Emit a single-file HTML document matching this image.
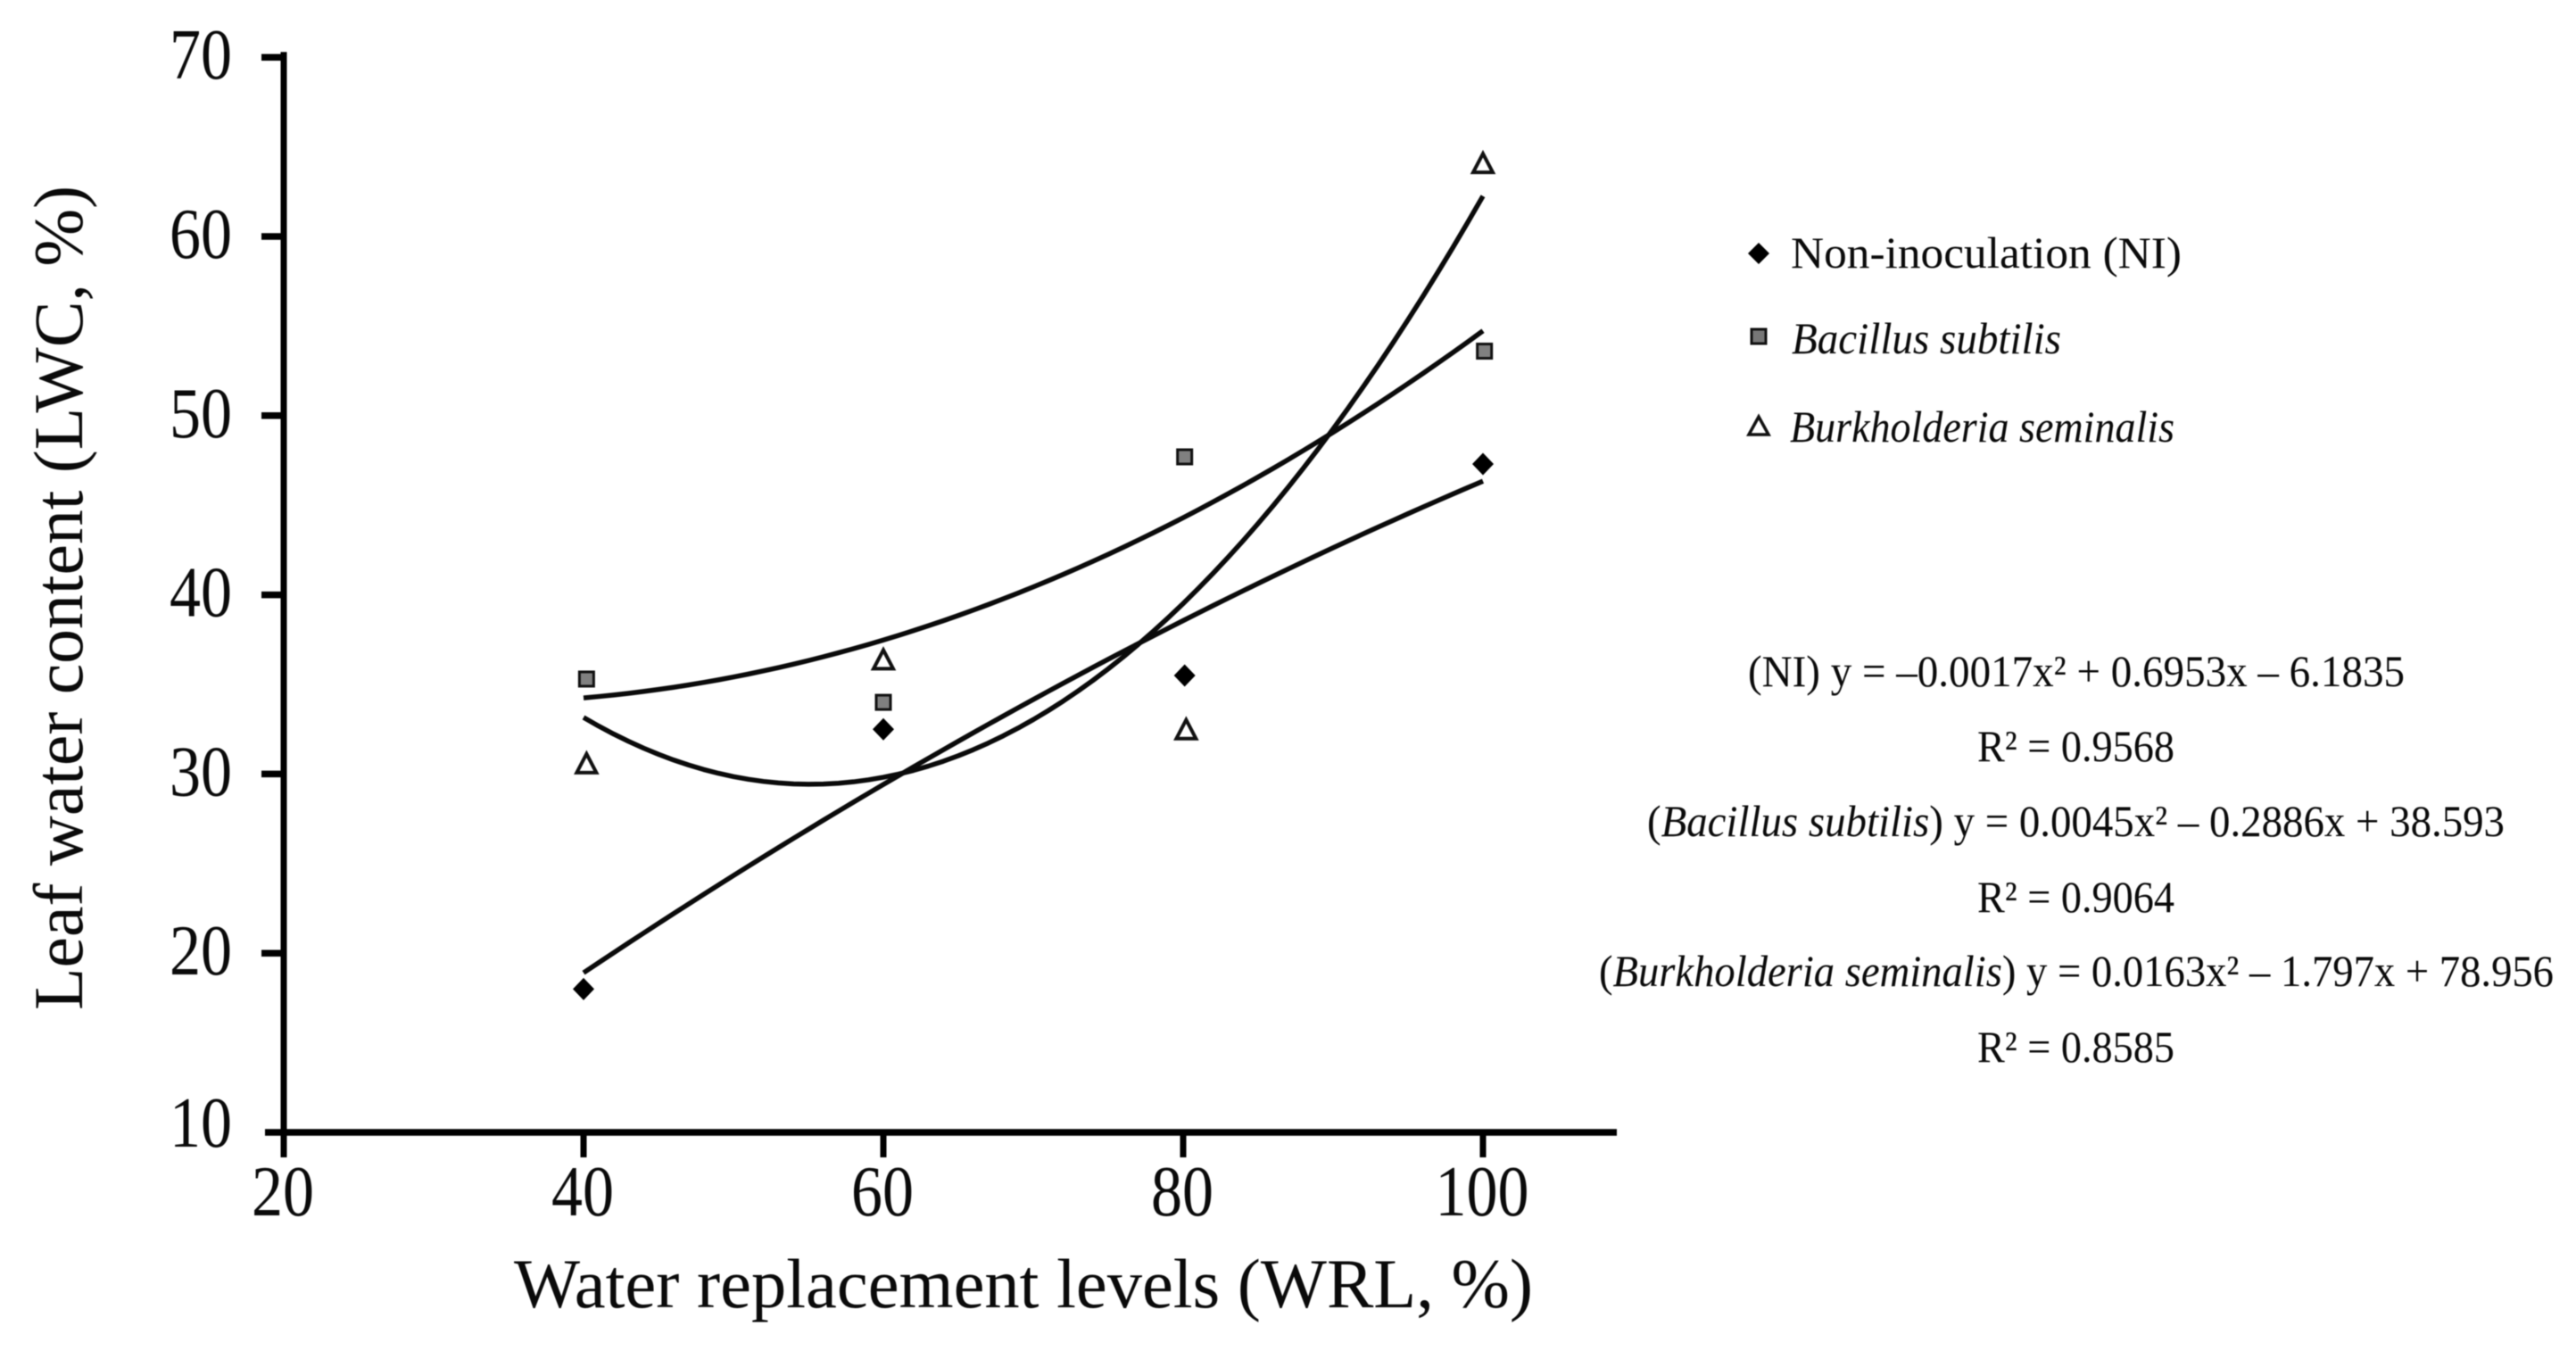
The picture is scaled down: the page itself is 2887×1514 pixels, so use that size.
<!DOCTYPE html>
<html lang="en">
<head>
<meta charset="utf-8">
<title>Leaf water content vs water replacement levels</title>
<style>
html,body{margin:0;padding:0;background:#fff;}
body{width:2887px;height:1514px;overflow:hidden;}
svg{display:block;filter:blur(0.6px);}
text{font-family:"Liberation Serif","DejaVu Serif",serif;fill:#0a0a0a;}
</style>
</head>
<body>
<svg id="chart" xmlns="http://www.w3.org/2000/svg" width="2887" height="1514" viewBox="0 0 2887 1514">
  <rect x="0" y="0" width="2887" height="1514" fill="#ffffff"/>
  <g id="axes"></g>
  <g id="curves"></g>
  <g id="points"></g>

  <text transform="translate(92,1132) rotate(-90)" font-size="78" textLength="924" lengthAdjust="spacingAndGlyphs">Leaf water content (LWC, %)</text>
  <text x="576" y="1465" font-size="78" textLength="1142" lengthAdjust="spacingAndGlyphs">Water replacement levels (WRL, %)</text>

  <g>
    <g>
      <polygon points="1971,272 1983,284 1971,296 1959,284" fill="#000"/>
      <text x="2007" y="300" font-size="50" textLength="438" lengthAdjust="spacingAndGlyphs">Non-inoculation (NI)</text>
    </g>
    <g>
      <rect x="1963" y="369" width="16" height="16" fill="#777" stroke="#111" stroke-width="3"/>
      <text x="2008" y="396" font-size="50" font-style="italic" textLength="302" lengthAdjust="spacingAndGlyphs">Bacillus subtilis</text>
    </g>
    <g>
      <polygon points="1971,467 1982,487 1960,487" fill="#fff" stroke="#111" stroke-width="3.5"/>
      <text x="2006" y="495" font-size="50" font-style="italic" textLength="431" lengthAdjust="spacingAndGlyphs">Burkholderia seminalis</text>
    </g>
  </g>

  <g font-size="50">
    <text x="1959" y="769" textLength="736" lengthAdjust="spacingAndGlyphs">(NI) y = –0.0017x² + 0.6953x – 6.1835</text>
    <text x="2216" y="853" textLength="221" lengthAdjust="spacingAndGlyphs">R² = 0.9568</text>
    <text x="1846" y="937" textLength="961" lengthAdjust="spacingAndGlyphs">(<tspan font-style="italic">Bacillus subtilis</tspan>) y = 0.0045x² – 0.2886x + 38.593</text>
    <text x="2216" y="1022" textLength="221" lengthAdjust="spacingAndGlyphs">R² = 0.9064</text>
    <text x="1792" y="1105" textLength="1070" lengthAdjust="spacingAndGlyphs">(<tspan font-style="italic">Burkholderia seminalis</tspan>) y = 0.0163x² – 1.797x + 78.956</text>
    <text x="2216" y="1190" textLength="221" lengthAdjust="spacingAndGlyphs">R² = 0.8585</text>
  </g>
</svg>

<script>
// Tick labels
var xTicks = [20, 40, 60, 80, 100];
var yTicks = [10, 20, 30, 40, 50, 60, 70];

// Measured points (x, leaf water content) per series
var nonInoculationX = [40, 60, 80.1, 100];
var nonInoculationY = [18, 32.5, 35.5, 47.3];
var bacillusX = [40.2, 60, 80.1, 100.1];
var bacillusY = [35.3, 34, 47.7, 53.6];
var burkholderiaX = [40.2, 60, 80.2, 100];
var burkholderiaY = [30.6, 36.4, 32.5, 64.1];

// Printed quadratic fit coefficients [a, b, c] for y = ax^2 + bx + c
var nonInoculationFit = [-0.0017, 0.6953, -6.1835];
var bacillusFit = [0.0045, -0.2886, 38.593];
var burkholderiaFit = [0.0163, -1.797, 78.956];
var fitRange = [40, 100];

var SVGNS = 'http://www.w3.org/2000/svg';
function xScale(v) { return 318 + (v - 20) * 16.8; }
function yScale(v) { return 1269 - (v - 10) * 20.08; }
function make(tag, attrs, parent) {
  var el = document.createElementNS(SVGNS, tag);
  for (var k in attrs) el.setAttribute(k, attrs[k]);
  parent.appendChild(el);
  return el;
}

var axes = document.getElementById('axes');
var curves = document.getElementById('curves');
var points = document.getElementById('points');

var yAxisLine = make('line', {x1: xScale(20), x2: xScale(20), y1: yScale(70) - 6, y2: yScale(10) + 28, stroke: '#000', 'stroke-width': 7}, axes);



var xAxisLine = make('line', {x1: 297, x2: 1812, y1: yScale(10), y2: yScale(10), stroke: '#000', 'stroke-width': 7.5}, axes);



yTicks.forEach(function (t) {
  if (t !== 10) {
    var tick = make('line', {x1: 293, x2: xScale(20), y1: yScale(t), y2: yScale(t), stroke: '#000', 'stroke-width': 7.5}, axes);
    
    
  }
  var label = make('text', {x: 260, y: yScale(t) + (t === 10 ? 16 : 24), 'text-anchor': 'end', 'font-size': 80, textLength: 70, lengthAdjust: 'spacingAndGlyphs'}, axes);
  label.textContent = String(t);
  
  
});

xTicks.forEach(function (t) {
  var tick = make('line', {x1: xScale(t), x2: xScale(t), y1: yScale(10), y2: yScale(10) + 28, stroke: '#000', 'stroke-width': 7}, axes);
  
  
  var s = String(t);
  var label = make('text', {x: xScale(t) - 1, y: 1362, 'text-anchor': 'middle', 'font-size': 80, textLength: s.length === 3 ? 105 : 70, lengthAdjust: 'spacingAndGlyphs'}, axes);
  label.textContent = s;
  
  
});

function drawCurve(coef, name) {
  var d = '';
  for (var x = fitRange[0]; x <= fitRange[1] + 1e-9; x += 1) {
    var v = coef[0] * x * x + coef[1] * x + coef[2];
    d += (d ? 'L' : 'M') + xScale(x).toFixed(2) + ' ' + yScale(v).toFixed(2);
  }
  var path = make('path', {d: d, fill: 'none', stroke: '#0a0a0a', 'stroke-width': 5.5, 'stroke-linejoin': 'round'}, curves);
  
  
}
drawCurve(nonInoculationFit, 'trend-curve-non-inoculation');
drawCurve(bacillusFit, 'trend-curve-bacillus-subtilis');
drawCurve(burkholderiaFit, 'trend-curve-burkholderia-seminalis');

nonInoculationX.forEach(function (xv, i) {
  var cx = xScale(xv), cy = yScale(nonInoculationY[i]);
  var m = make('polygon', {points: cx + ',' + (cy - 12.5) + ' ' + (cx + 12) + ',' + cy + ' ' + cx + ',' + (cy + 12.5) + ' ' + (cx - 12) + ',' + cy, fill: '#000'}, points);
  
  
});
bacillusX.forEach(function (xv, i) {
  var cx = xScale(xv), cy = yScale(bacillusY[i]);
  var m = make('rect', {x: cx - 8, y: cy - 8, width: 16, height: 16, fill: '#808080', stroke: '#111', 'stroke-width': 3}, points);
  
  
});
burkholderiaX.forEach(function (xv, i) {
  var cx = xScale(xv), cy = yScale(burkholderiaY[i]);
  var m = make('polygon', {points: cx + ',' + (cy - 10.5) + ' ' + (cx + 11) + ',' + (cy + 10.5) + ' ' + (cx - 11) + ',' + (cy + 10.5), fill: '#fff', stroke: '#111', 'stroke-width': 4}, points);
  
  
});
</script>
</body>
</html>
